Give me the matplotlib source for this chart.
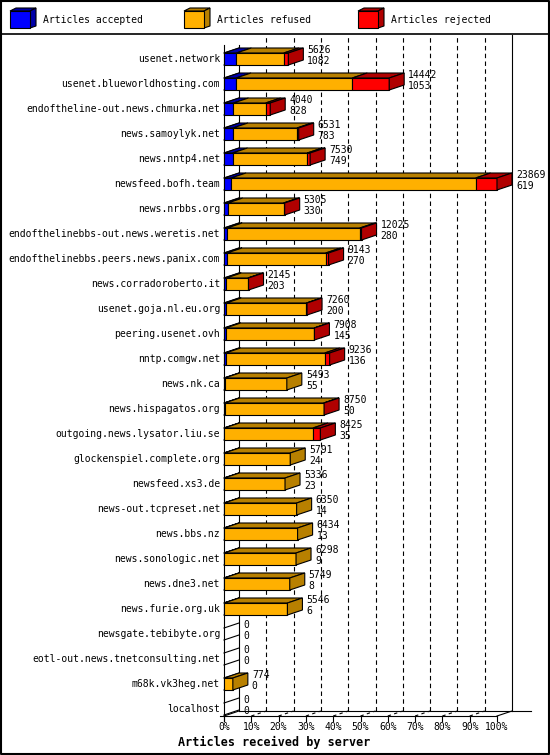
import numpy as np
import matplotlib
matplotlib.use("Agg")
import matplotlib.pyplot as plt
from matplotlib.patches import Polygon, Rectangle

plt.rcParams['font.family'] = ['DejaVu Sans Mono']

servers = ["usenet.network", "usenet.blueworldhosting.com",
           "endoftheline-out.news.chmurka.net", "news.samoylyk.net",
           "news.nntp4.net", "newsfeed.bofh.team", "news.nrbbs.org",
           "endofthelinebbs-out.news.weretis.net",
           "endofthelinebbs.peers.news.panix.com", "news.corradoroberto.it",
           "usenet.goja.nl.eu.org", "peering.usenet.ovh", "nntp.comgw.net",
           "news.nk.ca", "news.hispagatos.org", "outgoing.news.lysator.liu.se",
           "glockenspiel.complete.org", "newsfeed.xs3.de", "news-out.tcpreset.net",
           "news.bbs.nz", "news.sonologic.net", "news.dne3.net",
           "news.furie.org.uk", "newsgate.tebibyte.org",
           "eotl-out.news.tnetconsulting.net", "m68k.vk3heg.net", "localhost"]
offered = [5626, 14442, 4040, 6531, 7530, 23869, 5305, 12025, 9143, 2145,
           7260, 7908, 9236, 5493, 8750, 8425, 5791, 5336, 6350, 6434, 6298,
           5749, 5546, 0, 0, 774, 0]
accepted = [1082, 1053, 828, 783, 749, 619, 330, 280, 270, 203, 200, 145, 136,
            55, 50, 35, 24, 23, 14, 13, 9, 8, 6, 0, 0, 0, 0]
refused = [4144, 10159, 2812, 5598, 6531, 21380, 4875, 11595, 8623, 1882,
           7010, 7733, 8670, 5438, 8670, 7740, 5767, 5313, 6336, 6421, 6289,
           5741, 5540, 0, 0, 774, 0]
rejected = [400, 3230, 400, 150, 250, 1870, 100, 150, 250, 60, 50, 30, 430,
            0, 30, 650, 0, 0, 0, 0, 0, 0, 0, 0, 0, 0, 0]
pct_ticks = [0, 10, 20, 30, 40, 50, 60, 70, 80, 90, 100]

series = ["Articles accepted", "Articles refused", "Articles rejected"]
front = ["#0000ff", "#ffb000", "#ff0000"]
dark = ["#0000a8", "#b88000", "#b00000"]

W, H = 550, 755
fig = plt.figure(figsize=(W / 100, H / 100), dpi=100)
fig.patch.set_facecolor("white")

# overlay in pixel units for frame + legend
bg = fig.add_axes([0, 0, 1, 1])
bg.set_xlim(0, W)
bg.set_ylim(H, 0)
bg.axis("off")
bg.plot([0.5, W - 1, W - 1, 0.5, 0.5], [0.5, 0.5, H - 1, H - 1, 0.5], color="black", lw=1.5)
bg.plot([0, W], [34, 34], color="black", lw=1.2)

lw = 0.8
for k, name in enumerate(series):
    x0 = 10 + k * 174
    bg.add_patch(Polygon([(x0, 11), (x0 + 6, 8), (x0 + 26, 8), (x0 + 20, 11)],
                         closed=True, fc=dark[k], ec="black", lw=lw))
    bg.add_patch(Polygon([(x0 + 20, 11), (x0 + 26, 8), (x0 + 26, 26), (x0 + 20, 28)],
                         closed=True, fc=dark[k], ec="black", lw=lw))
    bg.add_patch(Rectangle((x0, 11), 20, 17, fc=front[k], ec="black", lw=lw))
    bg.text(x0 + 33, 20, name, fontsize=7, va="center", ha="left")

# main plot area: x in articles, y in rows
ax = fig.add_axes([224 / W, (H - 716) / H, 273 / W, 670 / H])
xmax = max(offered)
ax.set_xlim(0, xmax)
ax.set_ylim(26.28, -0.52)
ax.axis("off")
px = xmax / 273.0
py = 1 / 25.0
dx, dy = 15 * px, 5 * py
floor = 26.28
top = -0.56
hh = 0.24

# walls
ax.plot([0, 0], [floor + 0.2, top], color="black", lw=lw, clip_on=False)
ax.plot([dx, dx], [floor - dy, top], color="black", lw=lw, clip_on=False)
ax.plot([xmax + dx, xmax + dx], [floor - dy, -0.96], color="black", lw=lw, clip_on=False)
for p in pct_ticks[1:-1]:
    xv = p / 100 * xmax
    ax.plot([xv + dx, xv + dx], [floor - dy, -0.92], color="black", lw=lw,
            ls=(0, (4, 3)), clip_on=False)
    ax.plot([xv, xv + dx], [floor, floor - dy], color="black", lw=lw,
            ls=(0, (3, 3)), clip_on=False)
# floor
ax.plot([-4 * px, xmax], [floor, floor], color="black", lw=lw, clip_on=False)
ax.plot([xmax, xmax + dx], [floor, floor - dy], color="black", lw=lw, clip_on=False)
ax.plot([0, dx], [floor, floor - dy], color="black", lw=lw, clip_on=False)
ax.plot([dx, xmax + dx + 19 * px], [floor - dy, floor - dy], color="black", lw=lw, clip_on=False)
for p in pct_ticks:
    xv = p / 100 * xmax
    ax.plot([xv, xv], [floor, floor + 5 * py], color="black", lw=lw, clip_on=False)
    ax.text(xv, floor + 11 * py, "%d%%" % p, fontsize=7, ha="center", va="center")
ax.text(50 * px, floor + 26 * py, "Articles received by server",
        fontsize=8.5, fontweight="bold", ha="center", va="center")

# bars
for i, name in enumerate(servers):
    ax.plot([0, dx], [i - hh, i - hh - dy], color="black", lw=lw, clip_on=False)
    ax.plot([0, dx], [i + hh, i + hh - dy], color="black", lw=lw, clip_on=False)
    vals = [accepted[i], refused[i], rejected[i]]
    x0 = 0
    last = None
    for k, v in enumerate(vals):
        if v <= 0:
            continue
        ax.add_patch(Polygon([(x0, i - hh), (x0 + v, i - hh), (x0 + v + dx, i - hh - dy),
                              (x0 + dx, i - hh - dy)], closed=True, fc=dark[k],
                             ec="black", lw=lw, zorder=3, clip_on=False))
        ax.add_patch(Rectangle((x0, i - hh), v, 2 * hh, fc=front[k], ec="black",
                               lw=lw, zorder=3, clip_on=False))
        x0 += v
        last = k
    if last is not None:
        ax.add_patch(Polygon([(x0, i - hh), (x0 + dx, i - hh - dy), (x0 + dx, i + hh - dy),
                              (x0, i + hh)], closed=True, fc=dark[last], ec="black",
                             lw=lw, zorder=3, clip_on=False))
    ax.text(-4 * px, i, name, fontsize=7, ha="right", va="center")
    tx = offered[i] + dx + 4 * px
    ax.text(tx, i - 9 * py, str(offered[i]), fontsize=7, ha="left", va="center", zorder=4)
    ax.text(tx, i + 2 * py, str(accepted[i]), fontsize=7, ha="left", va="center", zorder=4)

fig.savefig("out.png", dpi=100)
